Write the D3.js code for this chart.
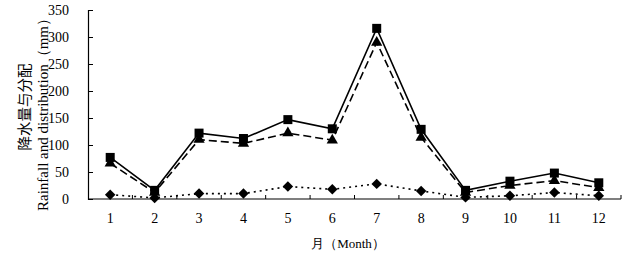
<!DOCTYPE html>
<html>
<head>
<meta charset="utf-8">
<script src="https://cdn.jsdelivr.net/npm/d3@7"></script>
<style>
  body { margin: 0; background: #fff; }
  text { font-family: "Liberation Serif", "Times New Roman", serif; fill: #000; }
</style>
</head>
<body>
<div id="chart"></div>
<script>
const months = ['1', '2', '3', '4', '5', '6', '7', '8', '9', '10', '11', '12'];
const rainTotal = [77, 16, 122, 112, 147, 130, 316, 129, 16, 33, 48, 30];
const rainPart = [66, 12, 110, 103, 122, 109, 290, 114, 12, 25, 34, 21];
const rainSmall = [8, 2, 10, 10, 23, 18, 28, 15, 3, 6, 12, 6];
const yTicks = [0, 50, 100, 150, 200, 250, 300, 350];

const width = 626;
const height = 260;
const margin = { top: 10, right: 5, bottom: 61, left: 88 };

const svg = d3.select('#chart')
  .append('svg')
  .attr('width', width)
  .attr('height', height);

const x = d3.scaleBand()
  .domain(months)
  .range([margin.left, 621]);

const y = d3.scaleLinear()
  .domain([0, 350])
  .range([199, 10]);

const cx = (d, i) => x(months[i]) + x.bandwidth() / 2;

// y axis
const yAxis = d3.axisLeft(y)
  .tickValues(yTicks)
  .tickSize(-5)
  .tickPadding(19);

const gy = svg.append('g')
  .attr('transform', `translate(${margin.left}, 0)`)
  .call(yAxis);
gy.select('.domain').attr('stroke', '#000').attr('stroke-width', 1.2);
gy.selectAll('.tick line').attr('stroke', '#000');
gy.selectAll('.tick text')
  .style('font-size', '14px')
  .style('font-family', '"Liberation Serif", serif');

// x axis, ticks between categories
const gx = svg.append('g')
  .attr('transform', `translate(0, ${y(0)})`);
gx.append('line')
  .attr('x1', margin.left)
  .attr('x2', 621)
  .attr('stroke', '#000')
  .attr('stroke-width', 1.2);
gx.selectAll('line.tk')
  .data(months)
  .join('line')
  .attr('class', 'tk')
  .attr('x1', (d) => x(d) + x.bandwidth())
  .attr('x2', (d) => x(d) + x.bandwidth())
  .attr('y1', 0)
  .attr('y2', -4)
  .attr('stroke', '#000');
gx.selectAll('text')
  .data(months)
  .join('text')
  .attr('x', (d) => x(d) + x.bandwidth() / 2)
  .attr('y', 24)
  .attr('text-anchor', 'middle')
  .style('font-size', '14px')
  .text((d) => d);

// titles
svg.append('text')
  .attr('x', 348)
  .attr('y', 248)
  .attr('text-anchor', 'middle')
  .style('font-size', '13px')
  .text('月（Month）');

svg.append('text')
  .attr('transform', 'translate(30, 107) rotate(-90)')
  .attr('text-anchor', 'middle')
  .style('font-family', '"Noto Sans CJK SC", sans-serif')
  .style('font-size', '14.5px')
  .text('降水量与分配');

svg.append('text')
  .attr('transform', 'translate(48, 111) rotate(-90)')
  .attr('text-anchor', 'middle')
  .style('font-size', '15px')
  .text('Rainfall and distribution（mm）');

const line = d3.line()
  .x(cx)
  .y((d) => y(d));

// series lines
svg.append('path')
  .datum(rainSmall)
  .attr('d', line)
  .attr('fill', 'none')
  .attr('stroke', '#000')
  .attr('stroke-width', 1.6)
  .attr('stroke-dasharray', '2,4');

svg.append('path')
  .datum(rainPart)
  .attr('d', line)
  .attr('fill', 'none')
  .attr('stroke', '#000')
  .attr('stroke-width', 1.6)
  .attr('stroke-dasharray', '8,4');

svg.append('path')
  .datum(rainTotal)
  .attr('d', line)
  .attr('fill', 'none')
  .attr('stroke', '#000')
  .attr('stroke-width', 1.6);

// markers
svg.append('g')
  .selectAll('path')
  .data(rainSmall)
  .join('path')
  .attr('transform', (d, i) => `translate(${cx(d, i)}, ${y(d)})`)
  .attr('d', d3.symbol(d3.symbolDiamond2, 70))
  .attr('fill', '#000');

svg.append('g')
  .selectAll('path')
  .data(rainPart)
  .join('path')
  .attr('transform', (d, i) => `translate(${cx(d, i)}, ${y(d)})`)
  .attr('d', d3.symbol(d3.symbolTriangle, 55))
  .attr('fill', '#000');

svg.append('g')
  .selectAll('rect')
  .data(rainTotal)
  .join('rect')
  .attr('x', (d, i) => cx(d, i) - 4.5)
  .attr('y', (d) => y(d) - 4.5)
  .attr('width', 9)
  .attr('height', 9)
  .attr('fill', '#000');
</script>
</body>
</html>
